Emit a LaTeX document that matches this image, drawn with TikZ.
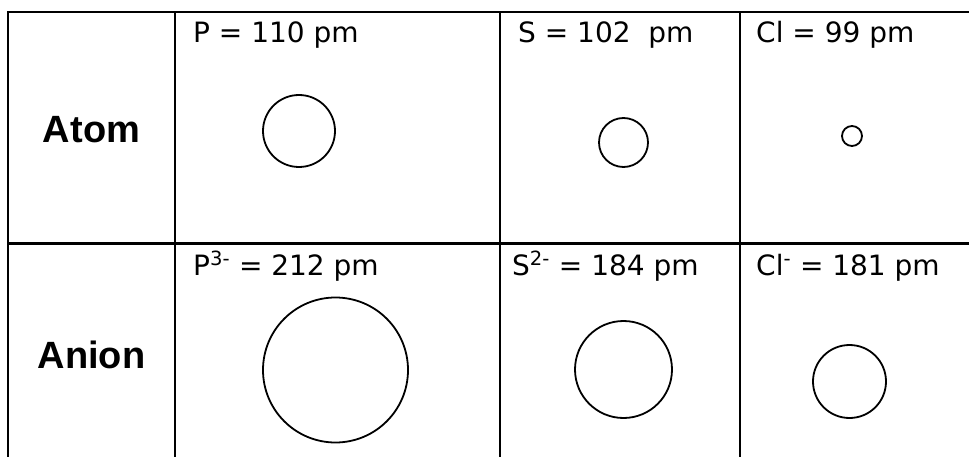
\documentclass[tikz,border=0pt]{standalone}
\usepackage{fontspec}
\setmainfont{DejaVu Sans}
\newfontfamily\headfont{Liberation Sans}
\begin{document}
\begin{tikzpicture}[x=1pt,y=-1pt,
  gridline/.style={line width=2.8pt,black},
  val/.style={anchor=base west,inner sep=0pt,font=\fontsize{28}{32}\selectfont},
  head/.style={anchor=base,inner sep=0pt,font=\headfont\bfseries\fontsize{38}{44}\selectfont},
  ball/.style={draw,circle,line width=1.8pt,inner sep=0pt}]
\useasboundingbox (0,0) rectangle (969,457);
\fill[white] (0,0) rectangle (969,457);
% grid
\draw[gridline] (969,12) -- (8,12) -- (8,457);
\draw[gridline] (8,243.5) -- (969,243.5);
\draw[gridline] (175,12) -- (175,457);
\draw[gridline] (500,12) -- (500,457);
\draw[gridline] (740,12) -- (740,457);
% row heads
\node[head] (atom) at (91.5,143) {Atom};
\node[head] (anion) at (91.5,368) {Anion};
% atom values
\node[val] (pv) at (193,43) {P = 110 pm};
\node[val] (sv) at (518,43) {S = 102\ \ pm};
\node[val] (clv) at (756,43) {Cl = 99 pm};
% anion values
\node[val] (pav) at (193,275) {P\textsuperscript{3-} = 212 pm};
\node[val] (sav) at (512,275) {S\textsuperscript{2-} = 184 pm};
\node[val] (clav) at (756,275) {Cl\textsuperscript{-} = 181 pm};
% atom circles
\node[ball,minimum size=72pt] (pc) at (299,131) {};
\node[ball,minimum size=49pt] (sc) at (623.5,142.5) {};
\node[ball,minimum size=20pt] (clc) at (852,136) {};
% anion circles
\node[ball,minimum size=145pt] (pac) at (335.5,370) {};
\node[ball,minimum size=97pt] (sac) at (623.5,369.5) {};
\node[ball,minimum size=73pt] (clac) at (849.5,381.5) {};
\end{tikzpicture}
\end{document}
